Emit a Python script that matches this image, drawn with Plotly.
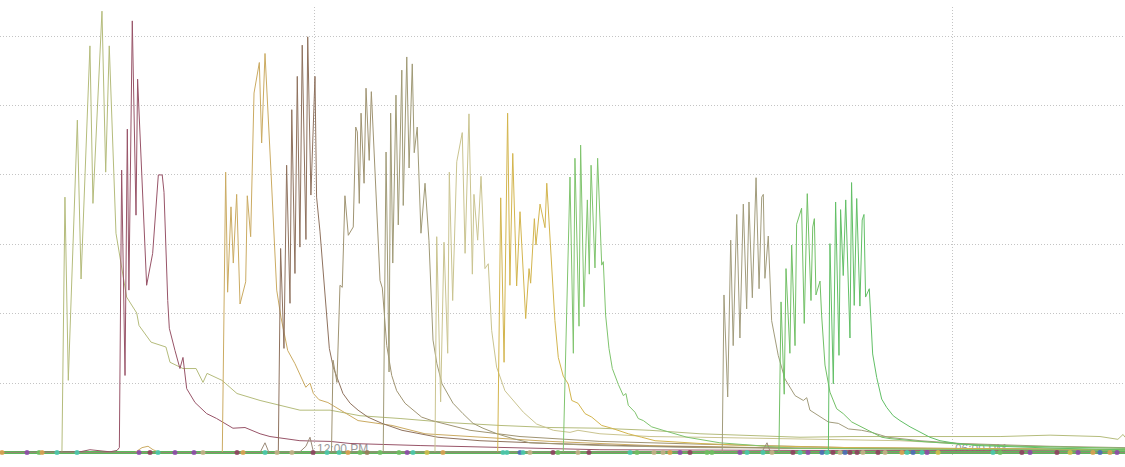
import datetime as dt
import plotly.graph_objects as go

BASE = dt.datetime(2024, 1, 1, 9, 0)

def T(mins):
    return [BASE + dt.timedelta(minutes=m) for m in mins]

# ---- series data: times in minutes after 09:00, values in grid units ----
s1_t = [2.3, 37.2, 38.9, 40.8, 45.9, 48.0, 53.0, 54.7, 59.8, 61.9, 63.9, 67.7, 73.7, 79.4, 80.7, 87.5, 95.9, 98.2,
        105.5, 112.9, 116.8, 119.1, 127.5, 136.0, 149.0, 160.3, 171.5, 188.5, 205.4, 228.0, 256.2, 284.4, 312.6,
        340.8, 369.0, 397.3, 425.5, 453.7, 481.9, 510.1, 538.3, 566.6, 594.8, 623.0, 633.1, 636.0, 637.1]
s1_v = [0, 0, 3.68, 1.04, 4.79, 2.50, 5.86, 3.59, 6.36, 4.04, 5.86, 3.16, 2.24, 2.01, 1.83, 1.59, 1.52, 1.30,
        1.21, 1.21, 1.01, 1.14, 1.04, 0.85, 0.75, 0.68, 0.61, 0.61, 0.53, 0.49, 0.43, 0.39, 0.36,
        0.35, 0.32, 0.27, 0.25, 0.22, 0.23, 0.23, 0.22, 0.23, 0.25, 0.23, 0.19, 0.26, 0.22]

s2_t = [2.3, 47.4, 53.0, 58.7, 64.3, 68.3, 69.6, 70.9, 72.8, 74.1, 75.0, 76.9, 79.0, 79.9, 82.2, 85.0, 88.4, 91.6,
        93.8, 94.8, 96.9, 97.8, 101.0, 103.8, 105.5, 107.6, 112.3, 118.9, 124.5, 133.7, 140.5, 149.0, 154.6,
        171.5, 188.5, 199.8, 239.3, 284.4, 340.8, 453.7, 637.1]
s2_v = [0, 0.01, 0.04, 0.03, 0.01, 0.03, 0.07, 4.07, 1.11, 4.66, 2.34, 6.22, 3.42, 5.38, 4.03, 2.41, 2.87, 4.00,
        4.00, 3.75, 2.19, 1.79, 1.47, 1.21, 1.37, 0.92, 0.72, 0.56, 0.49, 0.35, 0.36, 0.27, 0.23,
        0.17, 0.16, 0.13, 0.10, 0.07, 0.04, 0.03, 0.03]

s3_t = [2.3, 78.4, 82.4, 85.8, 88.6, 92.5, 127.7, 129.6, 130.7, 132.6, 133.9, 135.8, 137.7, 140.9, 141.8, 143.7,
        145.6, 148.6, 149.9, 151.8, 155.2, 157.0, 158.4, 160.8, 164.6, 168.7, 174.8, 177.2, 179.1, 182.3, 187.3,
        204.3, 223.5, 242.1, 273.1, 312.6, 369.0, 453.7, 637.1]
s3_v = [0, 0, 0.07, 0.09, 0.04, 0, 0, 4.04, 2.31, 3.54, 2.73, 3.72, 2.14, 2.46, 3.70, 3.11,
        5.18, 5.62, 4.46, 5.75, 4.03, 2.96, 2.34, 1.95, 1.47, 1.28, 0.94, 1.00, 0.85, 0.76, 0.72,
        0.46, 0.39, 0.27, 0.22, 0.16, 0.10, 0.06, 0.04]

s4_t = [2.3, 159.3, 160.6, 162.5, 164.0, 165.9, 166.9, 168.7, 170.0, 171.5, 172.8, 174.9, 175.9, 177.7, 180.0,
        180.9, 182.8, 185.6, 188.1, 190.3, 193.0, 195.8, 199.8, 204.3, 209.9, 217.8, 229.1, 240.4, 249.4, 273.1,
        312.6, 369.0, 453.7, 637.1]
s4_v = [0, 0, 2.94, 1.50, 4.14, 2.15, 4.94, 2.58, 5.42, 2.96, 5.87, 3.07, 5.99, 3.71, 5.42,
        3.68, 3.19, 2.24, 1.50, 1.23, 1.04, 0.85, 0.71, 0.61, 0.51, 0.42, 0.32, 0.27, 0.22, 0.17,
        0.13, 0.09, 0.06, 0.04]

s5_t = [2.3, 189.3, 190.2, 192.4, 194.1, 195.4, 196.9, 198.8, 201.6, 203.0, 203.9, 205.0, 206.0, 207.7, 208.8,
        210.6, 211.8, 214.3, 216.7, 218.0, 220.5, 223.3, 226.1, 230.8, 235.3, 240.2, 245.9, 252.2, 267.5, 295.7,
        340.8, 397.3, 481.9, 637.1]
s5_v = [0, 0, 1.33, 1.01, 2.41, 2.38, 3.70, 3.13, 3.25, 4.69, 4.62, 3.59, 4.89, 3.88, 5.25,
        4.21, 5.20, 3.78, 2.48, 2.37, 1.54, 1.11, 0.89, 0.71, 0.61, 0.51, 0.46, 0.42, 0.32, 0.23,
        0.16, 0.12, 0.07, 0.04]

s6_t = [2.3, 218.5, 220.1, 221.8, 222.7, 223.9, 225.7, 227.0, 229.0, 229.8, 231.8, 233.1, 234.9, 236.0, 237.7,
        239.8, 242.1, 244.3, 246.6, 248.8, 251.7, 255.0, 257.9, 263.5, 269.2, 274.8, 282.7, 291.7, 301.3, 340.8,
        397.3, 510.1, 637.1]
s6_v = [0, 0, 4.33, 1.16, 4.89, 2.73, 5.15, 3.28, 5.51, 3.56, 5.70, 4.10, 5.60, 4.32, 4.69,
        3.16, 3.88, 3.06, 1.62, 1.28, 0.99, 0.85, 0.71, 0.56, 0.42, 0.35, 0.27, 0.20, 0.14, 0.10,
        0.07, 0.06, 0.04]

s7_t = [2.3, 247.7, 248.7, 250.9, 252.8, 254.9, 255.8, 257.7, 260.0, 263.1, 264.7, 266.9, 268.8, 269.7, 271.8,
        273.7, 275.9, 277.8, 279.7, 282.5, 287.2, 291.9, 297.6, 305.1, 314.5, 323.9, 328.4, 340.8, 369.0, 397.3,
        453.7, 510.1, 566.6, 637.1]
s7_v = [0, 0, 3.11, 0.73, 3.03, 1.43, 4.04, 2.19, 4.19, 4.61, 2.87, 4.88, 2.57, 3.72, 3.06,
        3.98, 2.65, 2.72, 1.76, 1.23, 0.89, 0.75, 0.58, 0.41, 0.32, 0.29, 0.32, 0.27, 0.23, 0.22,
        0.20, 0.17, 0.10, 0.06]

s8_t = [2.3, 283.1, 284.8, 286.7, 288.7, 290.0, 291.6, 293.8, 295.7, 298.9, 300.8, 301.7, 303.8, 304.7, 307.0,
        309.8, 310.8, 313.6, 315.4, 317.3, 320.1, 322.9, 324.9, 328.4, 332.4, 336.2, 341.8, 347.4, 356.8, 364.4,
        371.9, 397.3, 425.5, 481.9, 637.1]
s8_v = [0, 0, 3.67, 1.30, 4.89, 2.41, 4.31, 2.40, 3.47, 1.93, 2.65, 2.44, 3.37, 2.99, 3.58,
        3.24, 3.88, 2.67, 1.90, 1.37, 1.10, 0.99, 0.75, 0.71, 0.56, 0.51, 0.39, 0.35, 0.27, 0.22,
        0.17, 0.13, 0.10, 0.07, 0.04]

s9_t = [2.3, 320.1, 323.9, 325.8, 326.7, 329.0, 329.9, 331.8, 333.7, 334.8, 335.8, 338.0, 339.5, 341.8, 342.7,
        344.0, 345.9, 347.8, 351.2, 354.0, 355.5, 356.8, 360.6, 362.4, 365.3, 370.0, 376.4, 389.9, 408.5, 427.2,
        449.7, 637.1]
s9_v = [0, 0, 3.97, 1.43, 4.24, 1.82, 4.43, 2.10, 3.64, 2.57, 4.14, 2.66, 4.24, 2.70, 2.75,
        1.98, 1.50, 1.21, 0.98, 0.82, 0.85, 0.68, 0.58, 0.49, 0.46, 0.37, 0.32, 0.22, 0.14, 0.10,
        0.06, 0.03]

s10_t = [2.3, 409.8, 410.8, 412.9, 414.6, 416.0, 418.0, 419.8, 421.7, 423.6, 424.9, 426.8, 428.9, 430.6, 432.1,
         433.0, 433.9, 435.8, 437.7, 441.4, 445.2, 450.9, 455.6, 457.5, 459.3, 464.0, 469.7, 475.3, 481.0, 488.5,
         494.1, 503.3, 521.4, 544.0, 594.8, 637.1]
s10_v = [0, 0, 2.27, 0.80, 3.06, 1.54, 3.43, 1.65, 3.58, 2.07, 3.61, 2.23, 3.96, 2.36, 3.68,
         3.72, 2.51, 3.12, 1.90, 1.40, 1.06, 0.82, 0.75, 0.79, 0.61, 0.53, 0.44, 0.42, 0.34, 0.32,
         0.29, 0.22, 0.17, 0.13, 0.09, 0.07]

s11_t = [2.3, 441.8, 443.0, 444.8, 445.8, 448.0, 449.0, 450.9, 451.8, 454.6, 456.1, 457.8, 459.9, 460.9, 461.8,
         462.7, 465.0, 465.9, 467.8, 470.6, 474.4, 478.1, 482.9, 488.5, 494.1, 499.8, 504.5, 521.4, 544.0, 577.8,
         637.1]
s11_v = [0, 0, 2.17, 0.84, 2.65, 1.43, 2.99, 1.54, 3.29, 3.52, 1.86, 3.73, 2.19, 3.25, 3.37,
         2.27, 2.47, 1.98, 1.26, 0.87, 0.63, 0.56, 0.44, 0.37, 0.29, 0.22, 0.20, 0.16, 0.12, 0.09,
         0.06]

s12_t = [2.3, 469.7, 470.6, 472.5, 473.8, 475.7, 476.6, 478.1, 479.5, 481.9, 482.8, 484.3, 485.7, 487.5, 488.8,
         489.8, 490.7, 492.8, 494.7, 497.0, 499.8, 502.6, 506.3, 510.1, 515.8, 521.4, 527.0, 532.7, 542.1, 553.4,
         572.2, 600.4, 637.1]
s12_v = [0, 0, 3.01, 0.99, 3.61, 1.40, 3.50, 2.55, 3.64, 1.65, 3.89, 2.12, 3.66, 2.11, 3.35,
         3.43, 2.24, 2.36, 1.42, 1.08, 0.77, 0.65, 0.53, 0.46, 0.37, 0.29, 0.22, 0.17, 0.13, 0.10,
         0.08, 0.06, 0.04]

bumps_t = [2.3, 149.0, 151.8, 154.0, 171.5, 174.9, 177.2, 179.1, 432.0, 435.1, 437.0, 637.1]
bumps_v = [0, 0, 0.14, 0, 0.01, 0.09, 0.22, 0.01, 0, 0.14, 0, 0]

base_t = [2.3, 637.1]
base_v = [0, 0]

dots_t = [3.4, 17.5, 24.3, 26.0, 34.4, 45.7, 80.7, 86.9, 91.4, 101.0, 111.7, 116.8, 136.0, 139.4, 151.8, 158.6,
          167.0, 178.9, 186.8, 193.6, 198.6, 205.4, 209.4, 216.7, 227.4, 232.0, 235.3, 243.2, 252.2, 286.1,
          288.3, 295.7, 297.4, 301.3, 314.3, 317.1, 328.4, 334.6, 357.8, 361.7, 371.3, 376.4, 380.3, 386.0,
          391.6, 401.2, 404.0, 419.8, 423.8, 432.8, 437.9, 449.7, 453.7, 458.2, 466.1, 468.9, 472.3, 476.3,
          479.1, 481.9, 485.9, 489.2, 497.7, 501.7, 511.2, 514.1, 517.5, 522.5, 525.4, 531.6, 562.6, 566.6,
          578.9, 583.5, 598.7, 606.1, 610.6, 619.0, 623.0, 628.6, 632.6]
dots_kind = ["o", "p", "g", "o", "t", "t", "p", "m", "t", "p", "p", "n", "m", "o", "t", "n",
             "n", "m", "t", "t", "o", "g", "b", "g", "g", "p", "t", "y", "o", "t",
             "t", "B", "t", "n", "m", "g", "n", "m", "t", "g", "n", "n", "o", "p",
             "m", "g", "g", "p", "t", "t", "n", "m", "t", "p", "B", "t", "m", "n",
             "B", "m", "m", "n", "m", "n", "o", "t", "B", "t", "p", "y", "t", "g",
             "m", "p", "m", "y", "p", "o", "B", "o", "p"]

tick_vals = ["2024-01-01 12:00", "2024-01-01 18:00"]
tick_text = ["12:00 PM", "06:00 PM"]

series = [
    (s1_t, s1_v, "#b5bc7c"), (s2_t, s2_v, "#985468"), (s3_t, s3_v, "#cbab62"),
    (s4_t, s4_v, "#8f725e"), (s5_t, s5_v, "#a09472"), (s6_t, s6_v, "#a09a76"),
    (s7_t, s7_v, "#cac490"), (s8_t, s8_v, "#d3b54e"), (s9_t, s9_v, "#80c46e"),
    (s10_t, s10_v, "#a29c7c"), (s11_t, s11_v, "#72c066"), (s12_t, s12_v, "#62bf66"),
    (bumps_t, bumps_v, "#9b8a78"),
]
dot_colors = {"o": "#e0a050", "p": "#8e44ad", "g": "#6fbf62", "t": "#48c9b0", "m": "#8e3b5e",
              "n": "#c8b08a", "b": "#9a7a5a", "y": "#d4c04a", "B": "#4a69bd"}

fig = go.Figure()
fig.add_trace(go.Scatter(x=T(base_t), y=base_v, mode="lines",
                         line=dict(color="#5cb85c", width=3), hoverinfo="skip", showlegend=False))
for t, v, c in series:
    fig.add_trace(go.Scatter(x=T(t), y=v, mode="lines", line=dict(color=c, width=1),
                             showlegend=False))
fig.add_trace(go.Scatter(x=T(base_t), y=base_v, mode="lines",
                         line=dict(color="#8f8a70", width=1), opacity=0.7, showlegend=False))
fig.add_trace(go.Scatter(x=T(dots_t), y=[0] * len(dots_t), mode="markers",
                         marker=dict(size=5, color=[dot_colors[k] for k in dots_kind], opacity=0.85),
                         showlegend=False))

fig.update_layout(
    width=1125, height=467,
    margin=dict(l=0, r=0, t=7, b=12),
    paper_bgcolor="white", plot_bgcolor="white",
    font=dict(family="Liberation Sans, Arial, sans-serif", size=12, color="#999999"),
    xaxis=dict(
        type="date",
        range=[BASE + dt.timedelta(minutes=2.25), BASE + dt.timedelta(minutes=637.1)],
        tickvals=tick_vals, ticktext=tick_text,
        ticklabelposition="inside right", ticks="",
        ticklabelstandoff=-6, ticklabelshift=2,
        showgrid=True, gridcolor="#c4c4c4", griddash="1px,2px", gridwidth=1,
        showline=False, zeroline=False, layer="below traces",
        tickfont=dict(color="#999999", size=12),
    ),
    yaxis=dict(
        range=[-0.036, 6.42], dtick=1, showticklabels=False, ticks="",
        showgrid=True, gridcolor="#c4c4c4", griddash="1px,2px", gridwidth=1,
        zeroline=False, showline=False,
    ),
)

fig.write_html("out.html", config={"displayModeBar": False},
               post_script="document.body.style.margin='0';document.body.style.overflow='hidden';")
